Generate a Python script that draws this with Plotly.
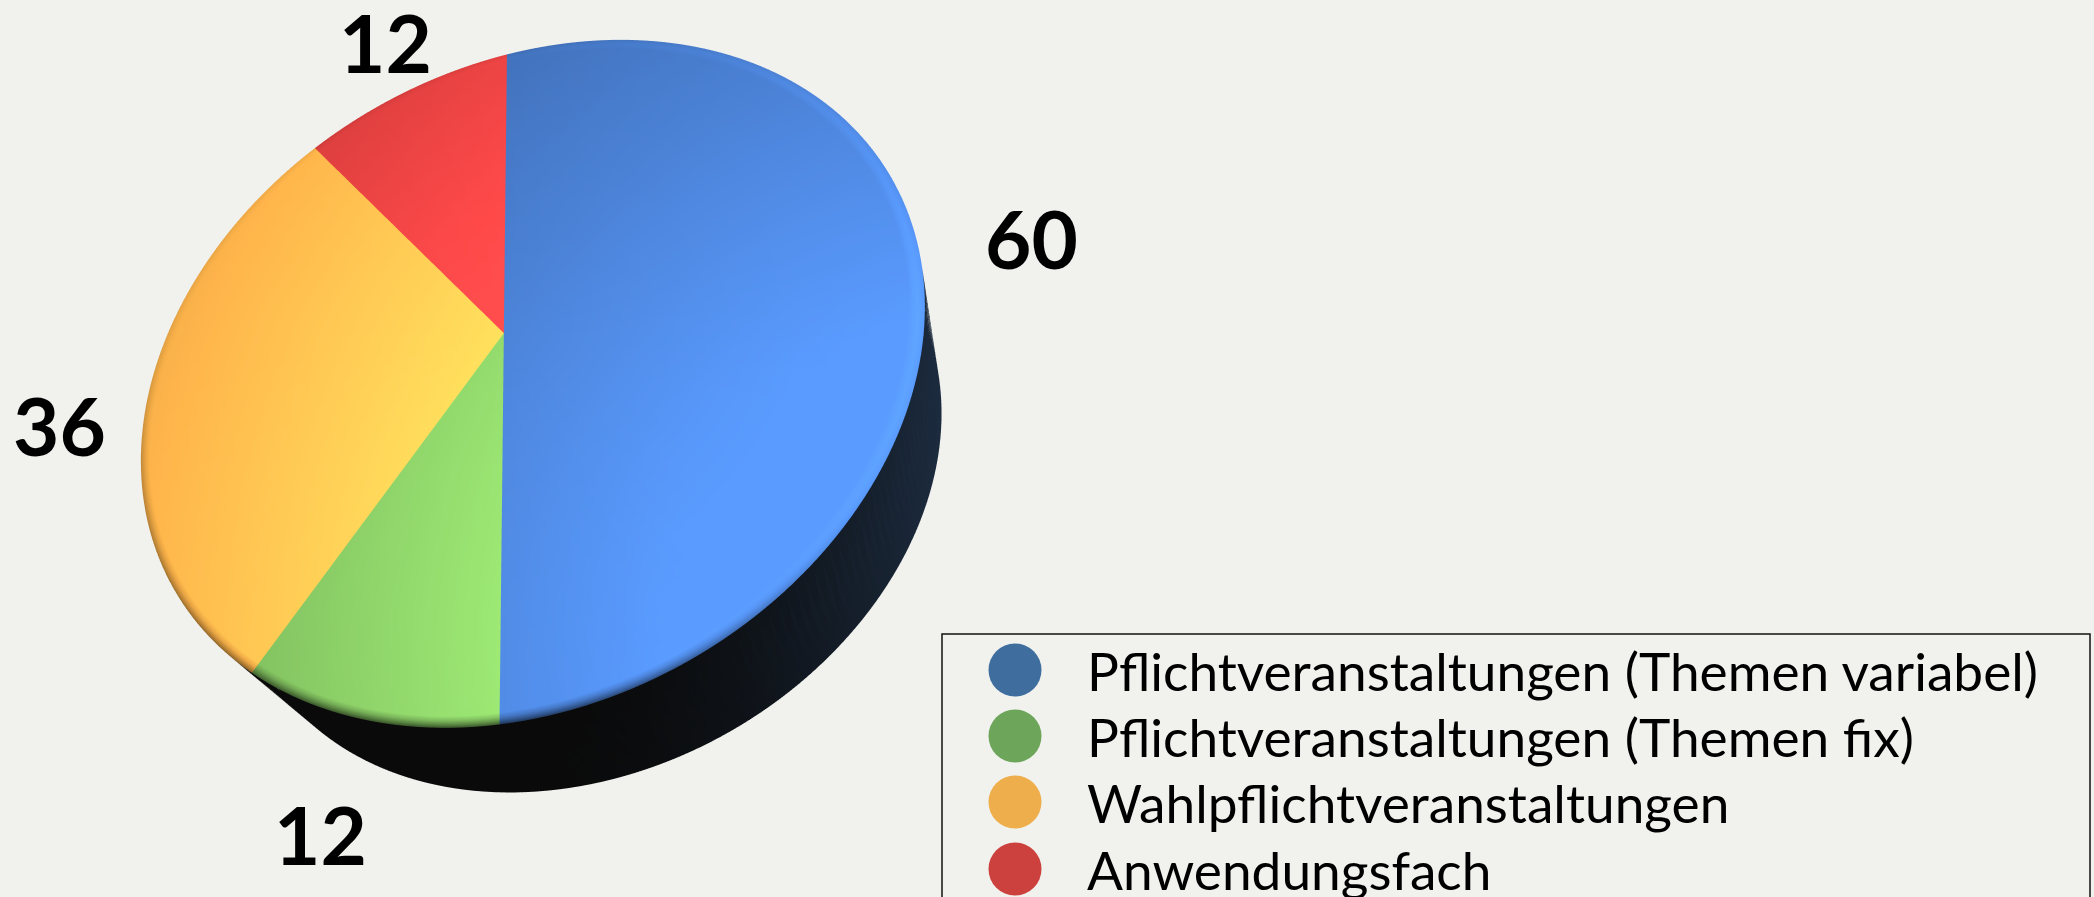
import numpy as np
import plotly.graph_objects as go

categories = ["Pflichtveranstaltungen (Themen variabel)", "Pflichtveranstaltungen (Themen fix)",
              "Wahlpflichtveranstaltungen", "Anwendungsfach"]
values = [60, 12, 36, 12]
legend_colors = ["#3e6d9e", "#6da55a", "#eeae4b", "#cc413d"]
# brightest un-clipped surface colour of each slice (may exceed 255, clipped after shading)
slice_base = [(90, 155, 255), (174, 258, 129), (372, 264, 110), (320, 92, 92)]
W, H = 2094, 897
BG = "#f1f2ee"

# where the tilted disc's rim and centre land on the page (pixels)
APEX = (503, 332)
RIM = [(508, 55), (499, 725), (253, 673), (314, 148)]  # boundaries after red / blue / green / orange
# base-of-cylinder ellipse: scale and offset relative to the top disc
BASE_S, BASE_DX, BASE_DY = 0.90, 56, 99

total = sum(values)
cum = np.cumsum([0] + values) / total * 2 * np.pi


def circle(t, r=1.0):
    return r * np.sin(t), -r * np.cos(t)


# homography: unit disc -> page
src = [(0.0, 0.0)] + [circle(a) for a in (cum[0], cum[1], cum[2], cum[3])]
dst = [APEX] + RIM
A = []
for (x, y), (u, v) in zip(src, dst):
    A.append([x, y, 1, 0, 0, 0, -u * x, -u * y, -u])
    A.append([0, 0, 0, x, y, 1, -v * x, -v * y, -v])
Hm = np.linalg.svd(np.array(A, float))[2][-1].reshape(3, 3)


def project(x, y):
    d = Hm[2, 0] * x + Hm[2, 1] * y + Hm[2, 2]
    return (Hm[0, 0] * x + Hm[0, 1] * y + Hm[0, 2]) / d, (Hm[1, 0] * x + Hm[1, 1] * y + Hm[1, 2]) / d


def shade(px, py, base, r):
    d = np.hypot(px - 1000, py - 650)
    f = 1 - 0.00061 * max(0.0, d - 347)
    # soft bevel towards the rim: dark along the bottom, faintly light on the upper right
    cx, cy = 531, 384
    n = np.hypot(px - cx, py - cy) + 1e-6
    ux, uy = (px - cx) / n, (py - cy) / n
    dark = 0.07 + 0.55 * np.clip(ux * (-0.25) + uy * 0.97, 0, 1) ** 1.5
    light = np.clip(ux * 0.85 - uy * 0.3, 0, 1)
    t = np.clip((r - 0.975) / 0.025, 0, 1) ** 1.4
    f = f * (1 - dark * t) * (1 + 0.10 * light * np.clip((r - 0.965) / 0.02, 0, 1))
    return f"rgb({min(255, int(base[0] * f))},{min(255, int(base[1] * f))},{min(255, int(base[2] * f))})"


def side_color(px, py):
    t = np.clip((px - 500) / 440, 0, 1) ** 2.2
    return f"rgb({int(10 + 18 * t)},{int(10 + 33 * t)},{int(10 + 52 * t)})"


def to_mesh(X, Y, Z, I, J, K, colors):
    return go.Mesh3d(x=X, y=-np.array(Y), z=Z, i=I, j=J, k=K, vertexcolor=colors,
                     flatshading=False, hoverinfo="skip", showscale=False,
                     lighting=dict(ambient=1, diffuse=0, specular=0, roughness=1, fresnel=0),
                     lightposition=dict(x=0, y=0, z=1000))


fig = go.Figure()

# side wall and base
T = np.linspace(0, 2 * np.pi, 241)
tx, ty = project(*circle(T))
ecx, ecy = 531.5, 384
bx = ecx + BASE_S * (tx - ecx) + BASE_DX
by = ecy + BASE_S * (ty - ecy) + BASE_DY
n = len(T)
X = np.r_[tx, bx, bx.mean()]
Y = np.r_[ty, by, by.mean()]
Z = np.r_[np.full(n, 0.3), np.zeros(n), 0.0]
I2, J2, K2 = [], [], []
for i in range(n - 1):
    I2 += [i, i + 1, n + i]
    J2 += [i + 1, n + i + 1, n + i + 1]
    K2 += [n + i + 1, n + i, 2 * n]
cols = [side_color(a, b) for a, b in zip(X, Y)]
fig.add_trace(to_mesh(X, Y, Z, I2, J2, K2, cols))

# top slices, drawn from the values
radii = [0, 0.2, 0.4, 0.6, 0.75, 0.85, 0.92, 0.95, 0.965, 0.975, 0.985, 0.993, 1.0]
for w in range(len(values)):
    na = max(8, int((cum[w + 1] - cum[w]) / (2 * np.pi) * 240))
    ang = np.linspace(cum[w], cum[w + 1], na + 1)
    X, Y, C = [], [], []
    for r in radii:
        for a in ang:
            sx, sy = circle(a, r)
            px, py = project(sx, sy)
            X.append(px)
            Y.append(py)
            C.append(shade(px, py, slice_base[w], r))
    I, J, K = [], [], []
    m = na + 1
    for ir in range(len(radii) - 1):
        for ia in range(na):
            p = ir * m + ia
            I += [p, p + 1]
            J += [p + 1, p + m + 1]
            K += [p + m, p + m]
    fig.add_trace(to_mesh(X, Y, np.full(len(X), 1.0), I, J, K, C))

# legend markers on a page-pixel cartesian overlay
leg_y = [670, 736, 802, 869]
leg_x = 1015
for c, col, y in zip(categories, legend_colors, leg_y):
    fig.add_trace(go.Scatter(x=[leg_x], y=[y], mode="markers", name=c, showlegend=False, hoverinfo="skip",
                             marker=dict(size=53, color=col, line=dict(width=0))))

annotations = []
for c, y in zip(categories, leg_y):
    annotations.append(dict(x=1085, y=y, xref="x", yref="y", text=c, showarrow=False, xanchor="left",
                            yanchor="middle", font=dict(family="Lato", size=53.2, color="black")))
data_labels = [(1031, 238), (320, 834), (59, 425), (385, 42)]
for v, (x, y) in zip(values, data_labels):
    annotations.append(dict(x=x, y=y, xref="x", yref="y", text=f"<b>{v}</b>", showarrow=False,
                            font=dict(family="Lato", size=80, color="black")))

fig.update_layout(
    width=W, height=H, autosize=False, margin=dict(l=0, r=0, t=0, b=0),
    paper_bgcolor=BG, plot_bgcolor="rgba(0,0,0,0)", showlegend=False,
    xaxis=dict(range=[0, W], visible=False, fixedrange=True, domain=[0, 1]),
    yaxis=dict(range=[H, 0], visible=False, fixedrange=True, domain=[0, 1]),
    scene=dict(
        domain=dict(x=[0, 1], y=[0, 1]),
        xaxis=dict(visible=False, range=[0, W]),
        yaxis=dict(visible=False, range=[-H, 0]),
        zaxis=dict(visible=False, range=[-1, 2]),
        aspectmode="manual", aspectratio=dict(x=2 * W / H, y=2, z=0.5),
        bgcolor="rgba(0,0,0,0)",
        camera=dict(eye=dict(x=0, y=0, z=2.0), center=dict(x=0, y=0, z=0), up=dict(x=0, y=1, z=0),
                    projection=dict(type="orthographic")),
    ),
    shapes=[dict(type="rect", xref="x", yref="y", x0=942, x1=2090, y0=634, y1=960,
                 line=dict(color="#111111", width=1.5), fillcolor="rgba(0,0,0,0)")],
    annotations=annotations,
)
fig.write_html("out.html", config=dict(displayModeBar=False),
               post_script=f"document.body.style.margin='0';document.body.style.background='{BG}';"
                           "document.documentElement.style.overflow='hidden';")
